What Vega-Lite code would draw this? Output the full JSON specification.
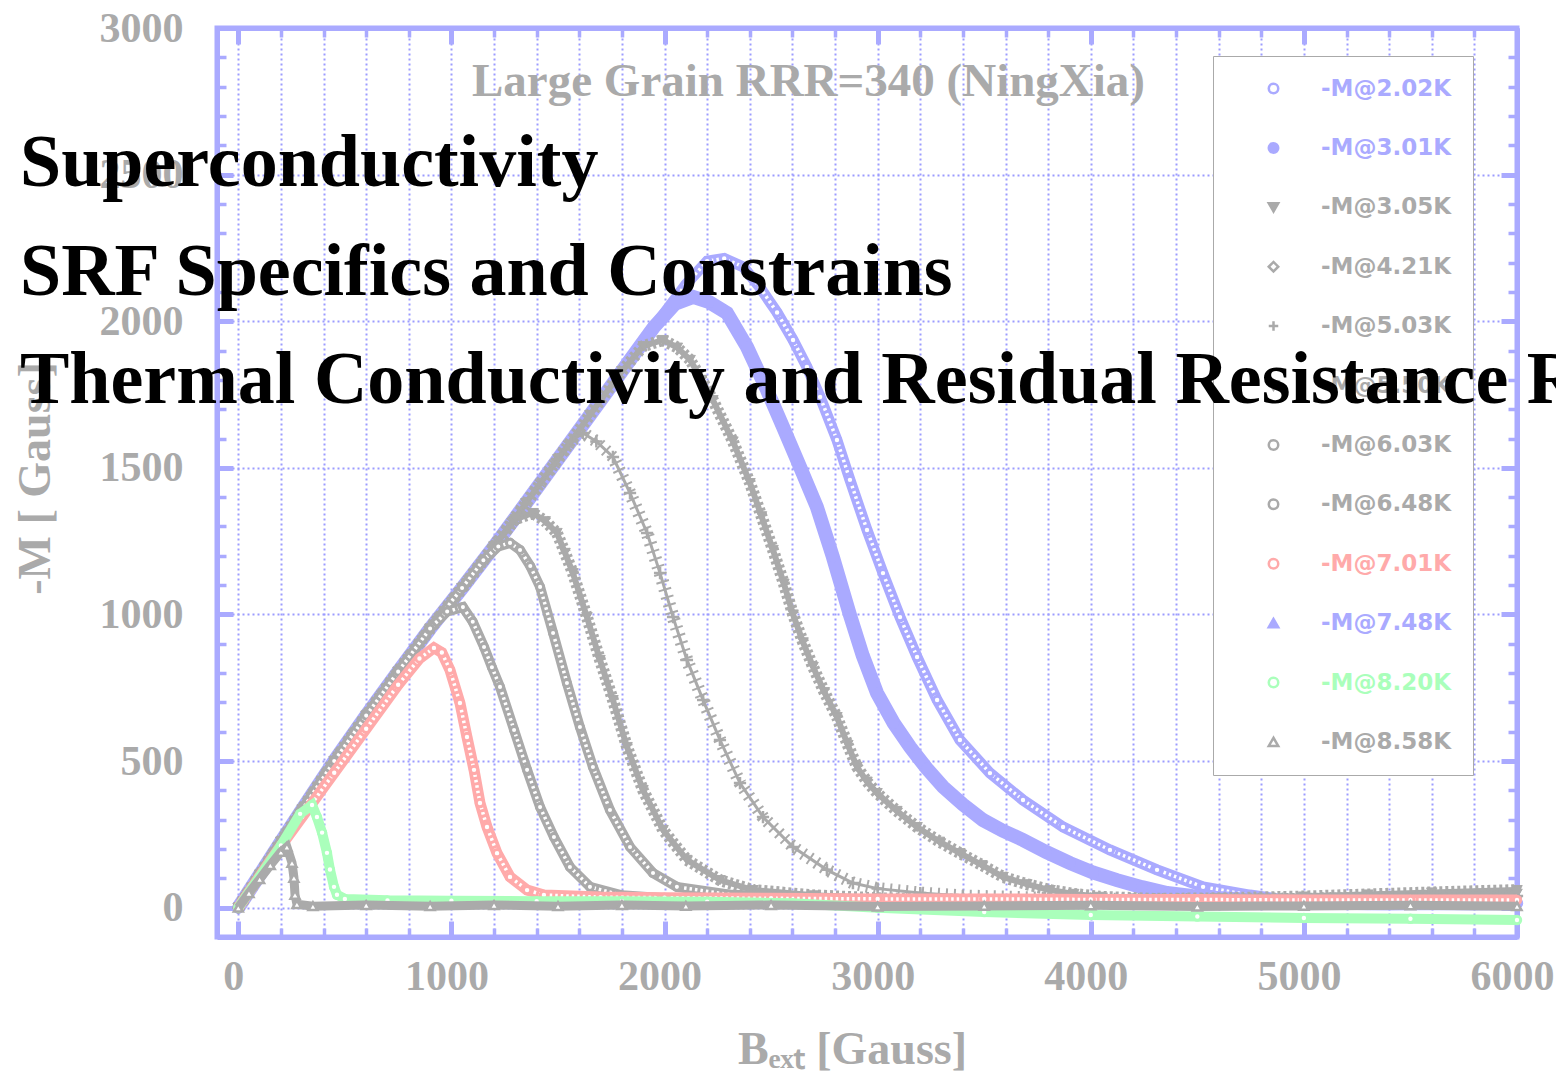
{
"$schema":"https://vega.github.io/schema/vega-lite/v6.json",
"width":1300,"height":909,
"autosize":{"type":"none"},
"padding":{"left":217,"top":28,"right":39,"bottom":146},
"background":"white",
"title":{"text":["Superconductivity","SRF Specifics and Constrains","Thermal Conductivity and Residual Resistance Ratio"],"anchor":"start","frame":"group","orient":"top","font":"Liberation Serif","fontSize":74,"fontWeight":"bold","color":"black","lineHeight":108.5,"baseline":"alphabetic","offset":-470,"dx":-197},
"data":{"values":[
{"s":"-M@2.02K","b":0,"m":0},{"s":"-M@2.02K","b":100,"m":112},{"s":"-M@2.02K","b":200,"m":225},{"s":"-M@2.02K","b":300,"m":335},{"s":"-M@2.02K","b":450,"m":500},{"s":"-M@2.02K","b":600,"m":655},{"s":"-M@2.02K","b":750,"m":805},{"s":"-M@2.02K","b":900,"m":952},{"s":"-M@2.02K","b":1050,"m":1090},{"s":"-M@2.02K","b":1200,"m":1232},{"s":"-M@2.02K","b":1350,"m":1380},{"s":"-M@2.02K","b":1500,"m":1530},{"s":"-M@2.02K","b":1650,"m":1680},{"s":"-M@2.02K","b":1800,"m":1830},{"s":"-M@2.02K","b":1950,"m":1980},{"s":"-M@2.02K","b":2100,"m":2125},{"s":"-M@2.02K","b":2200,"m":2205},{"s":"-M@2.02K","b":2280,"m":2214},{"s":"-M@2.02K","b":2370,"m":2185},{"s":"-M@2.02K","b":2448,"m":2115},{"s":"-M@2.02K","b":2528,"m":2030},{"s":"-M@2.02K","b":2603,"m":1936},{"s":"-M@2.02K","b":2668,"m":1844},{"s":"-M@2.02K","b":2730,"m":1742},{"s":"-M@2.02K","b":2809,"m":1595},{"s":"-M@2.02K","b":2870,"m":1459},{"s":"-M@2.02K","b":2950,"m":1288},{"s":"-M@2.02K","b":3025,"m":1141},{"s":"-M@2.02K","b":3105,"m":991},{"s":"-M@2.02K","b":3185,"m":855},{"s":"-M@2.02K","b":3279,"m":708},{"s":"-M@2.02K","b":3386,"m":572},{"s":"-M@2.02K","b":3527,"m":459},{"s":"-M@2.02K","b":3682,"m":367},{"s":"-M@2.02K","b":3870,"m":275},{"s":"-M@2.02K","b":4090,"m":197},{"s":"-M@2.02K","b":4311,"m":129},{"s":"-M@2.02K","b":4527,"m":71},{"s":"-M@2.02K","b":4747,"m":43},{"s":"-M@2.02K","b":4982,"m":19},{"s":"-M@2.02K","b":5200,"m":12},{"s":"-M@2.02K","b":5400,"m":10},{"s":"-M@2.02K","b":5600,"m":12},{"s":"-M@2.02K","b":5800,"m":10},{"s":"-M@2.02K","b":6000,"m":12},
{"s":"-M@3.01K","b":0,"m":0},{"s":"-M@3.01K","b":100,"m":112},{"s":"-M@3.01K","b":200,"m":225},{"s":"-M@3.01K","b":300,"m":335},{"s":"-M@3.01K","b":450,"m":500},{"s":"-M@3.01K","b":600,"m":655},{"s":"-M@3.01K","b":750,"m":805},{"s":"-M@3.01K","b":900,"m":952},{"s":"-M@3.01K","b":1050,"m":1090},{"s":"-M@3.01K","b":1200,"m":1232},{"s":"-M@3.01K","b":1350,"m":1380},{"s":"-M@3.01K","b":1500,"m":1530},{"s":"-M@3.01K","b":1650,"m":1680},{"s":"-M@3.01K","b":1800,"m":1830},{"s":"-M@3.01K","b":1950,"m":1980},{"s":"-M@3.01K","b":2050,"m":2060},{"s":"-M@3.01K","b":2134,"m":2083},{"s":"-M@3.01K","b":2210,"m":2065},{"s":"-M@3.01K","b":2293,"m":2028},{"s":"-M@3.01K","b":2387,"m":1912},{"s":"-M@3.01K","b":2481,"m":1765},{"s":"-M@3.01K","b":2556,"m":1639},{"s":"-M@3.01K","b":2636,"m":1503},{"s":"-M@3.01K","b":2715,"m":1366},{"s":"-M@3.01K","b":2790,"m":1196},{"s":"-M@3.01K","b":2870,"m":998},{"s":"-M@3.01K","b":2930,"m":860},{"s":"-M@3.01K","b":2997,"m":732},{"s":"-M@3.01K","b":3075,"m":630},{"s":"-M@3.01K","b":3152,"m":548},{"s":"-M@3.01K","b":3230,"m":475},{"s":"-M@3.01K","b":3307,"m":412},{"s":"-M@3.01K","b":3400,"m":352},{"s":"-M@3.01K","b":3494,"m":299},{"s":"-M@3.01K","b":3588,"m":262},{"s":"-M@3.01K","b":3682,"m":231},{"s":"-M@3.01K","b":3790,"m":190},{"s":"-M@3.01K","b":3903,"m":152},{"s":"-M@3.01K","b":4010,"m":120},{"s":"-M@3.01K","b":4123,"m":94},{"s":"-M@3.01K","b":4240,"m":70},{"s":"-M@3.01K","b":4358,"m":50},{"s":"-M@3.01K","b":4475,"m":40},{"s":"-M@3.01K","b":4592,"m":33},{"s":"-M@3.01K","b":4800,"m":25},{"s":"-M@3.01K","b":5000,"m":20},{"s":"-M@3.01K","b":5300,"m":15},{"s":"-M@3.01K","b":5600,"m":15},{"s":"-M@3.01K","b":6000,"m":15},
{"s":"-M@3.05K","b":0,"m":0},{"s":"-M@3.05K","b":100,"m":112},{"s":"-M@3.05K","b":200,"m":225},{"s":"-M@3.05K","b":300,"m":335},{"s":"-M@3.05K","b":450,"m":500},{"s":"-M@3.05K","b":600,"m":655},{"s":"-M@3.05K","b":750,"m":805},{"s":"-M@3.05K","b":900,"m":952},{"s":"-M@3.05K","b":1050,"m":1090},{"s":"-M@3.05K","b":1200,"m":1232},{"s":"-M@3.05K","b":1350,"m":1380},{"s":"-M@3.05K","b":1500,"m":1530},{"s":"-M@3.05K","b":1650,"m":1680},{"s":"-M@3.05K","b":1800,"m":1830},{"s":"-M@3.05K","b":1900,"m":1915},{"s":"-M@3.05K","b":1993,"m":1936},{"s":"-M@3.05K","b":2060,"m":1910},{"s":"-M@3.05K","b":2120,"m":1868},{"s":"-M@3.05K","b":2175,"m":1800},{"s":"-M@3.05K","b":2227,"m":1731},{"s":"-M@3.05K","b":2321,"m":1590},{"s":"-M@3.05K","b":2401,"m":1448},{"s":"-M@3.05K","b":2455,"m":1335},{"s":"-M@3.05K","b":2509,"m":1220},{"s":"-M@3.05K","b":2560,"m":1105},{"s":"-M@3.05K","b":2603,"m":1000},{"s":"-M@3.05K","b":2650,"m":905},{"s":"-M@3.05K","b":2697,"m":821},{"s":"-M@3.05K","b":2750,"m":735},{"s":"-M@3.05K","b":2809,"m":650},{"s":"-M@3.05K","b":2860,"m":555},{"s":"-M@3.05K","b":2903,"m":480},{"s":"-M@3.05K","b":2950,"m":430},{"s":"-M@3.05K","b":2997,"m":391},{"s":"-M@3.05K","b":3090,"m":330},{"s":"-M@3.05K","b":3185,"m":275},{"s":"-M@3.05K","b":3290,"m":225},{"s":"-M@3.05K","b":3386,"m":186},{"s":"-M@3.05K","b":3490,"m":145},{"s":"-M@3.05K","b":3588,"m":105},{"s":"-M@3.05K","b":3700,"m":80},{"s":"-M@3.05K","b":3809,"m":60},{"s":"-M@3.05K","b":3920,"m":47},{"s":"-M@3.05K","b":4043,"m":37},{"s":"-M@3.05K","b":4300,"m":30},{"s":"-M@3.05K","b":4600,"m":32},{"s":"-M@3.05K","b":5000,"m":38},{"s":"-M@3.05K","b":5300,"m":45},{"s":"-M@3.05K","b":5600,"m":52},{"s":"-M@3.05K","b":6000,"m":60},
{"s":"-M@5.03K","b":0,"m":0},{"s":"-M@5.03K","b":100,"m":112},{"s":"-M@5.03K","b":200,"m":225},{"s":"-M@5.03K","b":300,"m":335},{"s":"-M@5.03K","b":450,"m":500},{"s":"-M@5.03K","b":600,"m":655},{"s":"-M@5.03K","b":750,"m":805},{"s":"-M@5.03K","b":900,"m":952},{"s":"-M@5.03K","b":1050,"m":1090},{"s":"-M@5.03K","b":1200,"m":1232},{"s":"-M@5.03K","b":1350,"m":1380},{"s":"-M@5.03K","b":1500,"m":1530},{"s":"-M@5.03K","b":1560,"m":1590},{"s":"-M@5.03K","b":1617,"m":1619},{"s":"-M@5.03K","b":1680,"m":1590},{"s":"-M@5.03K","b":1758,"m":1537},{"s":"-M@5.03K","b":1838,"m":1414},{"s":"-M@5.03K","b":1918,"m":1278},{"s":"-M@5.03K","b":1979,"m":1141},{"s":"-M@5.03K","b":2040,"m":991},{"s":"-M@5.03K","b":2105,"m":845},{"s":"-M@5.03K","b":2181,"m":708},{"s":"-M@5.03K","b":2260,"m":572},{"s":"-M@5.03K","b":2354,"m":425},{"s":"-M@5.03K","b":2462,"m":309},{"s":"-M@5.03K","b":2603,"m":207},{"s":"-M@5.03K","b":2762,"m":129},{"s":"-M@5.03K","b":2884,"m":84},{"s":"-M@5.03K","b":3000,"m":65},{"s":"-M@5.03K","b":3200,"m":50},{"s":"-M@5.03K","b":3400,"m":40},{"s":"-M@5.03K","b":3800,"m":32},{"s":"-M@5.03K","b":4200,"m":28},{"s":"-M@5.03K","b":4600,"m":28},{"s":"-M@5.03K","b":5000,"m":30},{"s":"-M@5.03K","b":5500,"m":34},{"s":"-M@5.03K","b":6000,"m":40},
{"s":"-M@5.50K","b":0,"m":0},{"s":"-M@5.50K","b":100,"m":112},{"s":"-M@5.50K","b":200,"m":225},{"s":"-M@5.50K","b":300,"m":335},{"s":"-M@5.50K","b":450,"m":500},{"s":"-M@5.50K","b":600,"m":655},{"s":"-M@5.50K","b":750,"m":805},{"s":"-M@5.50K","b":900,"m":952},{"s":"-M@5.50K","b":1050,"m":1090},{"s":"-M@5.50K","b":1200,"m":1232},{"s":"-M@5.50K","b":1300,"m":1325},{"s":"-M@5.50K","b":1383,"m":1346},{"s":"-M@5.50K","b":1440,"m":1318},{"s":"-M@5.50K","b":1495,"m":1278},{"s":"-M@5.50K","b":1533,"m":1210},{"s":"-M@5.50K","b":1570,"m":1141},{"s":"-M@5.50K","b":1636,"m":991},{"s":"-M@5.50K","b":1697,"m":845},{"s":"-M@5.50K","b":1758,"m":708},{"s":"-M@5.50K","b":1824,"m":548},{"s":"-M@5.50K","b":1899,"m":401},{"s":"-M@5.50K","b":1993,"m":265},{"s":"-M@5.50K","b":2105,"m":163},{"s":"-M@5.50K","b":2260,"m":94},{"s":"-M@5.50K","b":2415,"m":60},{"s":"-M@5.50K","b":2700,"m":42},{"s":"-M@5.50K","b":3000,"m":32},{"s":"-M@5.50K","b":3500,"m":26},{"s":"-M@5.50K","b":4000,"m":24},{"s":"-M@5.50K","b":4500,"m":26},{"s":"-M@5.50K","b":5000,"m":30},{"s":"-M@5.50K","b":5500,"m":36},{"s":"-M@5.50K","b":6000,"m":48},
{"s":"-M@6.03K","b":0,"m":0},{"s":"-M@6.03K","b":100,"m":112},{"s":"-M@6.03K","b":200,"m":225},{"s":"-M@6.03K","b":300,"m":335},{"s":"-M@6.03K","b":450,"m":500},{"s":"-M@6.03K","b":600,"m":655},{"s":"-M@6.03K","b":750,"m":805},{"s":"-M@6.03K","b":900,"m":952},{"s":"-M@6.03K","b":1050,"m":1090},{"s":"-M@6.03K","b":1150,"m":1185},{"s":"-M@6.03K","b":1220,"m":1232},{"s":"-M@6.03K","b":1275,"m":1244},{"s":"-M@6.03K","b":1322,"m":1220},{"s":"-M@6.03K","b":1370,"m":1165},{"s":"-M@6.03K","b":1416,"m":1094},{"s":"-M@6.03K","b":1477,"m":937},{"s":"-M@6.03K","b":1542,"m":766},{"s":"-M@6.03K","b":1603,"m":616},{"s":"-M@6.03K","b":1664,"m":480},{"s":"-M@6.03K","b":1744,"m":333},{"s":"-M@6.03K","b":1838,"m":207},{"s":"-M@6.03K","b":1946,"m":118},{"s":"-M@6.03K","b":2058,"m":71},{"s":"-M@6.03K","b":2300,"m":45},{"s":"-M@6.03K","b":2600,"m":35},{"s":"-M@6.03K","b":3000,"m":28},{"s":"-M@6.03K","b":3500,"m":24},{"s":"-M@6.03K","b":4000,"m":22},{"s":"-M@6.03K","b":4500,"m":22},{"s":"-M@6.03K","b":5000,"m":24},{"s":"-M@6.03K","b":5500,"m":26},{"s":"-M@6.03K","b":6000,"m":30},
{"s":"-M@6.48K","b":0,"m":0},{"s":"-M@6.48K","b":100,"m":112},{"s":"-M@6.48K","b":200,"m":225},{"s":"-M@6.48K","b":300,"m":335},{"s":"-M@6.48K","b":450,"m":500},{"s":"-M@6.48K","b":600,"m":655},{"s":"-M@6.48K","b":750,"m":805},{"s":"-M@6.48K","b":900,"m":952},{"s":"-M@6.48K","b":980,"m":1010},{"s":"-M@6.48K","b":1054,"m":1025},{"s":"-M@6.48K","b":1100,"m":975},{"s":"-M@6.48K","b":1153,"m":889},{"s":"-M@6.48K","b":1190,"m":820},{"s":"-M@6.48K","b":1228,"m":753},{"s":"-M@6.48K","b":1294,"m":606},{"s":"-M@6.48K","b":1355,"m":470},{"s":"-M@6.48K","b":1416,"m":343},{"s":"-M@6.48K","b":1481,"m":241},{"s":"-M@6.48K","b":1556,"m":139},{"s":"-M@6.48K","b":1650,"m":71},{"s":"-M@6.48K","b":1800,"m":42},{"s":"-M@6.48K","b":2000,"m":32},{"s":"-M@6.48K","b":2400,"m":26},{"s":"-M@6.48K","b":2800,"m":22},{"s":"-M@6.48K","b":3200,"m":20},{"s":"-M@6.48K","b":3600,"m":20},{"s":"-M@6.48K","b":4000,"m":20},{"s":"-M@6.48K","b":4500,"m":22},{"s":"-M@6.48K","b":5000,"m":22},{"s":"-M@6.48K","b":5500,"m":24},{"s":"-M@6.48K","b":6000,"m":26},
{"s":"-M@7.01K","b":0,"m":0},{"s":"-M@7.01K","b":150,"m":160},{"s":"-M@7.01K","b":300,"m":310},{"s":"-M@7.01K","b":450,"m":460},{"s":"-M@7.01K","b":600,"m":610},{"s":"-M@7.01K","b":750,"m":760},{"s":"-M@7.01K","b":850,"m":850},{"s":"-M@7.01K","b":918,"m":886},{"s":"-M@7.01K","b":955,"m":870},{"s":"-M@7.01K","b":993,"m":811},{"s":"-M@7.01K","b":1040,"m":698},{"s":"-M@7.01K","b":1073,"m":582},{"s":"-M@7.01K","b":1106,"m":470},{"s":"-M@7.01K","b":1134,"m":357},{"s":"-M@7.01K","b":1167,"m":275},{"s":"-M@7.01K","b":1214,"m":186},{"s":"-M@7.01K","b":1275,"m":105},{"s":"-M@7.01K","b":1355,"m":60},{"s":"-M@7.01K","b":1434,"m":43},{"s":"-M@7.01K","b":1700,"m":36},{"s":"-M@7.01K","b":2000,"m":34},{"s":"-M@7.01K","b":2500,"m":32},{"s":"-M@7.01K","b":3000,"m":30},{"s":"-M@7.01K","b":3500,"m":30},{"s":"-M@7.01K","b":4000,"m":28},{"s":"-M@7.01K","b":4500,"m":28},{"s":"-M@7.01K","b":5000,"m":26},{"s":"-M@7.01K","b":5500,"m":26},{"s":"-M@7.01K","b":6000,"m":26},
{"s":"-M@8.20K","b":0,"m":0},{"s":"-M@8.20K","b":100,"m":105},{"s":"-M@8.20K","b":200,"m":212},{"s":"-M@8.20K","b":290,"m":320},{"s":"-M@8.20K","b":346,"m":350},{"s":"-M@8.20K","b":369,"m":309},{"s":"-M@8.20K","b":393,"m":256},{"s":"-M@8.20K","b":416,"m":187},{"s":"-M@8.20K","b":430,"m":130},{"s":"-M@8.20K","b":449,"m":71},{"s":"-M@8.20K","b":463,"m":44},{"s":"-M@8.20K","b":500,"m":30},{"s":"-M@8.20K","b":700,"m":25},{"s":"-M@8.20K","b":1000,"m":24},{"s":"-M@8.20K","b":1400,"m":22},{"s":"-M@8.20K","b":1800,"m":22},{"s":"-M@8.20K","b":2200,"m":20},{"s":"-M@8.20K","b":2600,"m":15},{"s":"-M@8.20K","b":3000,"m":0},{"s":"-M@8.20K","b":3500,"m":-15},{"s":"-M@8.20K","b":4000,"m":-25},{"s":"-M@8.20K","b":4500,"m":-30},{"s":"-M@8.20K","b":5000,"m":-35},{"s":"-M@8.20K","b":5500,"m":-38},{"s":"-M@8.20K","b":6000,"m":-42},
{"s":"-M@8.58K","b":0,"m":0},{"s":"-M@8.58K","b":50,"m":50},{"s":"-M@8.58K","b":100,"m":97},{"s":"-M@8.58K","b":150,"m":145},{"s":"-M@8.58K","b":200,"m":190},{"s":"-M@8.58K","b":228,"m":207},{"s":"-M@8.58K","b":252,"m":153},{"s":"-M@8.58K","b":261,"m":102},{"s":"-M@8.58K","b":266,"m":44},{"s":"-M@8.58K","b":275,"m":12},{"s":"-M@8.58K","b":350,"m":5},{"s":"-M@8.58K","b":600,"m":9},{"s":"-M@8.58K","b":900,"m":5},{"s":"-M@8.58K","b":1200,"m":9},{"s":"-M@8.58K","b":1500,"m":5},{"s":"-M@8.58K","b":1800,"m":9},{"s":"-M@8.58K","b":2100,"m":6},{"s":"-M@8.58K","b":2500,"m":9},{"s":"-M@8.58K","b":3000,"m":4},{"s":"-M@8.58K","b":3500,"m":6},{"s":"-M@8.58K","b":4000,"m":8},{"s":"-M@8.58K","b":4500,"m":4},{"s":"-M@8.58K","b":5000,"m":6},{"s":"-M@8.58K","b":5500,"m":8},{"s":"-M@8.58K","b":6000,"m":5}
]},
"layer":[
{
"encoding":{
"x":{"field":"b","type":"quantitative","scale":{"domain":[-100,6000],"nice":false,"zero":false},
"axis":{"orient":"bottom","values":[0,200,400,600,800,1000,1200,1400,1600,1800,2000,2200,2400,2600,2800,3000,3200,3400,3600,3800,4000,4200,4400,4600,4800,5000,5200,5400,5600,5800,6000],"format":"d","labelExpr":"datum.value % 1000 === 0 ? datum.label : ''","labelOverlap":false,"labelFlush":false,"labelPadding":35,"labelOffset":-5,
"tickSize":{"condition":{"test":"datum.value % 1000 === 0","value":-16},"value":-9},
"tickWidth":{"condition":{"test":"datum.value % 1000 === 0","value":5},"value":3.5},
"grid":true,"title":"Bₑₓₜ [Gauss]","titleX":635,"titleY":126,"titleAlign":"center","titleBaseline":"alphabetic","titleFontSize":46}},
"y":{"field":"m","type":"quantitative","scale":{"domain":[-100,3000],"nice":false,"zero":false},
"axis":{"orient":"left","values":[0,100,200,300,400,500,600,700,800,900,1000,1100,1200,1300,1400,1500,1600,1700,1800,1900,2000,2100,2200,2300,2400,2500,2600,2700,2800,2900,3000],"format":"d","labelExpr":"datum.value % 500 === 0 ? datum.label : ''","labelOverlap":false,"labelFlush":false,"labelPadding":50,
"tickSize":{"condition":{"test":"datum.value % 500 === 0","value":-16},"value":-9},
"tickWidth":{"condition":{"test":"datum.value % 500 === 0","value":5},"value":3.5},
"grid":true,"gridOpacity":{"condition":{"test":"datum.value % 500 === 0","value":1},"value":0},
"title":"-M [ Gauss]","titleX":-182,"titleY":450,"titleAngle":-90,"titleAlign":"center","titleBaseline":"middle","titleFontSize":46}},
"stroke":{"field":"s","type":"nominal","scale":{"domain":["-M@2.02K","-M@3.01K","-M@3.05K","-M@4.21K","-M@5.03K","-M@5.50K","-M@6.03K","-M@6.48K","-M@7.01K","-M@7.48K","-M@8.20K","-M@8.58K"],"range":["#aaaaff","#aaaaff","#aaaaaa","#aaaaaa","#aaaaaa","#aaaaaa","#aaaaaa","#aaaaaa","#ffaaaa","#aaaaff","#aaffbb","#aaaaaa"]},
"legend":{"orient":"none","legendX":996,"legendY":28,"direction":"vertical","title":null,"padding":21,"strokeColor":"#aaaaaa","fillColor":"white","labelFont":"DejaVu Sans","labelFontSize":23,"labelFontWeight":"bold","labelColor":{"expr":"scale('stroke', datum.value)"},"symbolOffset":28,"labelOffset":36,"rowPadding":35.4,"symbolSize":90,"symbolStrokeWidth":2.5,"encode":{"legend":{"update":{"strokeWidth":{"value":2}}}}}},
"fill":{"field":"s","type":"nominal","scale":{"domain":["-M@2.02K","-M@3.01K","-M@3.05K","-M@4.21K","-M@5.03K","-M@5.50K","-M@6.03K","-M@6.48K","-M@7.01K","-M@7.48K","-M@8.20K","-M@8.58K"],"range":["white","#aaaaff","#aaaaaa","white","transparent","#aaaaaa","white","white","white","#aaaaff","white","white"]},
"legend":{"orient":"none","legendX":996,"legendY":28,"direction":"vertical","title":null,"padding":21,"strokeColor":"#aaaaaa","fillColor":"white","labelFont":"DejaVu Sans","labelFontSize":23,"labelFontWeight":"bold","labelColor":{"expr":"scale('stroke', datum.value)"},"symbolOffset":28,"labelOffset":36,"rowPadding":35.4,"symbolSize":90,"symbolStrokeWidth":2.5,"encode":{"legend":{"update":{"strokeWidth":{"value":2}}}}}},
"shape":{"field":"s","type":"nominal","scale":{"domain":["-M@2.02K","-M@3.01K","-M@3.05K","-M@4.21K","-M@5.03K","-M@5.50K","-M@6.03K","-M@6.48K","-M@7.01K","-M@7.48K","-M@8.20K","-M@8.58K"],"range":["circle","circle","triangle-down","diamond","M-1,0H1M0,-1V1","triangle-down","circle","circle","circle","triangle-up","circle","triangle-up"]},
"legend":{"orient":"none","legendX":996,"legendY":28,"direction":"vertical","title":null,"padding":21,"strokeColor":"#aaaaaa","fillColor":"white","labelFont":"DejaVu Sans","labelFontSize":23,"labelFontWeight":"bold","labelColor":{"expr":"scale('stroke', datum.value)"},"symbolOffset":28,"labelOffset":36,"rowPadding":35.4,"symbolSize":90,"symbolStrokeWidth":2.5,"encode":{"legend":{"update":{"strokeWidth":{"value":2}}}}}}
},
"layer":[
{"transform":[{"filter":{"field":"s","equal":"-M@2.02K"}}],"mark":{"type":"line","strokeWidth":11},"encoding":{"stroke":{"value":"#aaaaff"},"fill":{"value":"transparent"}}},
{"transform":[{"filter":{"field":"s","equal":"-M@2.02K"}}],"mark":{"type":"line","strokeWidth":3.5,"strokeDash":[2.5,3]},"encoding":{"stroke":{"value":"white"},"fill":{"value":"transparent"}}},
{"transform":[{"filter":{"field":"s","equal":"-M@2.02K"}}],"mark":{"type":"point","size":55,"strokeWidth":3,"opacity":1}},
{"transform":[{"filter":{"field":"s","equal":"-M@3.01K"}}],"mark":{"type":"line","strokeWidth":14},"encoding":{"stroke":{"value":"#aaaaff"},"fill":{"value":"transparent"}}},
{"transform":[{"filter":{"field":"s","equal":"-M@3.01K"}}],"mark":{"type":"point","size":130,"strokeWidth":1,"opacity":1}},
{"transform":[{"filter":{"field":"s","equal":"-M@3.05K"}}],"mark":{"type":"line","strokeWidth":6},"encoding":{"stroke":{"value":"#aaaaaa"},"fill":{"value":"transparent"}}},
{"transform":[{"filter":{"field":"s","equal":"-M@3.05K"}}],"mark":{"type":"line","strokeWidth":12,"strokeDash":[3,3]},"encoding":{"stroke":{"value":"#aaaaaa"},"fill":{"value":"transparent"}}},
{"transform":[{"filter":{"field":"s","equal":"-M@3.05K"}}],"mark":{"type":"point","size":110,"strokeWidth":1,"opacity":1}},
{"transform":[{"filter":{"field":"s","equal":"-M@5.03K"}}],"mark":{"type":"line","strokeWidth":3},"encoding":{"stroke":{"value":"#aaaaaa"},"fill":{"value":"transparent"}}},
{"transform":[{"filter":{"field":"s","equal":"-M@5.03K"}}],"mark":{"type":"line","strokeWidth":13,"strokeDash":[2,6]},"encoding":{"stroke":{"value":"#aaaaaa"},"fill":{"value":"transparent"}}},
{"transform":[{"filter":{"field":"s","equal":"-M@5.03K"}}],"mark":{"type":"point","size":150,"strokeWidth":2.5,"opacity":1}},
{"transform":[{"filter":{"field":"s","equal":"-M@5.50K"}}],"mark":{"type":"line","strokeWidth":6},"encoding":{"stroke":{"value":"#aaaaaa"},"fill":{"value":"transparent"}}},
{"transform":[{"filter":{"field":"s","equal":"-M@5.50K"}}],"mark":{"type":"line","strokeWidth":12,"strokeDash":[3,3]},"encoding":{"stroke":{"value":"#aaaaaa"},"fill":{"value":"transparent"}}},
{"transform":[{"filter":{"field":"s","equal":"-M@5.50K"}}],"mark":{"type":"point","size":110,"strokeWidth":1,"opacity":1}},
{"transform":[{"filter":{"field":"s","equal":"-M@6.03K"}}],"mark":{"type":"line","strokeWidth":10},"encoding":{"stroke":{"value":"#aaaaaa"},"fill":{"value":"transparent"}}},
{"transform":[{"filter":{"field":"s","equal":"-M@6.03K"}}],"mark":{"type":"line","strokeWidth":3.5,"strokeDash":[2.5,3]},"encoding":{"stroke":{"value":"white"},"fill":{"value":"transparent"}}},
{"transform":[{"filter":{"field":"s","equal":"-M@6.03K"}}],"mark":{"type":"point","size":50,"strokeWidth":3,"opacity":1}},
{"transform":[{"filter":{"field":"s","equal":"-M@6.48K"}}],"mark":{"type":"line","strokeWidth":10},"encoding":{"stroke":{"value":"#aaaaaa"},"fill":{"value":"transparent"}}},
{"transform":[{"filter":{"field":"s","equal":"-M@6.48K"}}],"mark":{"type":"line","strokeWidth":3.5,"strokeDash":[2.5,3]},"encoding":{"stroke":{"value":"white"},"fill":{"value":"transparent"}}},
{"transform":[{"filter":{"field":"s","equal":"-M@6.48K"}}],"mark":{"type":"point","size":50,"strokeWidth":3,"opacity":1}},
{"transform":[{"filter":{"field":"s","equal":"-M@7.01K"}}],"mark":{"type":"line","strokeWidth":11},"encoding":{"stroke":{"value":"#ffaaaa"},"fill":{"value":"transparent"}}},
{"transform":[{"filter":{"field":"s","equal":"-M@7.01K"}}],"mark":{"type":"line","strokeWidth":3.5,"strokeDash":[2.5,3]},"encoding":{"stroke":{"value":"white"},"fill":{"value":"transparent"}}},
{"transform":[{"filter":{"field":"s","equal":"-M@7.01K"}}],"mark":{"type":"point","size":55,"strokeWidth":3,"opacity":1}},
{"transform":[{"filter":{"field":"s","equal":"-M@8.20K"}}],"mark":{"type":"line","strokeWidth":10},"encoding":{"stroke":{"value":"#aaffbb"},"fill":{"value":"transparent"}}},
{"transform":[{"filter":{"field":"s","equal":"-M@8.20K"}}],"mark":{"type":"point","size":55,"strokeWidth":3,"opacity":1}},
{"transform":[{"filter":{"field":"s","equal":"-M@8.58K"}}],"mark":{"type":"line","strokeWidth":9},"encoding":{"stroke":{"value":"#aaaaaa"},"fill":{"value":"transparent"}}},
{"transform":[{"filter":{"field":"s","equal":"-M@8.58K"}}],"mark":{"type":"point","size":80,"strokeWidth":2.5,"opacity":1}}
]
},
{
"mark":{"type":"point","opacity":0},
"encoding":{
"x":{"field":"b","type":"quantitative","axis":{"orient":"top","values":[0,200,400,600,800,1000,1200,1400,1600,1800,2000,2200,2400,2600,2800,3000,3200,3400,3600,3800,4000,4200,4400,4600,4800,5000,5200,5400,5600,5800,6000],"labels":false,"grid":false,
"tickSize":{"condition":{"test":"datum.value % 1000 === 0","value":-16},"value":-9},
"tickWidth":{"condition":{"test":"datum.value % 1000 === 0","value":5},"value":3.5},
"title":"Large Grain RRR=340 (NingXia)","titleX":591,"titleY":67,"titleAlign":"center","titleBaseline":"alphabetic","titleAngle":0,"titleFontSize":47}},
"y":{"field":"m","type":"quantitative","axis":{"orient":"right","values":[0,100,200,300,400,500,600,700,800,900,1000,1100,1200,1300,1400,1500,1600,1700,1800,1900,2000,2100,2200,2300,2400,2500,2600,2700,2800,2900,3000],"labels":false,"grid":false,
"tickSize":{"condition":{"test":"datum.value % 500 === 0","value":-16},"value":-9},
"tickWidth":{"condition":{"test":"datum.value % 500 === 0","value":5},"value":3.5},
"title":null}}
}
}
],
"resolve":{"axis":{"x":"independent","y":"independent"}},
"config":{
"view":{"stroke":"#aaaaff","strokeWidth":5},
"axis":{"domainColor":"#aaaaff","domainWidth":5,"tickColor":"#aaaaff","gridColor":"#9c9cff","gridDash":[2,3],"gridWidth":2,"labelFont":"Liberation Serif","labelFontSize":42,"labelFontWeight":"bold","labelColor":"#aaaaaa","titleFont":"Liberation Serif","titleFontSize":46,"titleFontWeight":"bold","titleColor":"#aaaaaa"}
}
}
